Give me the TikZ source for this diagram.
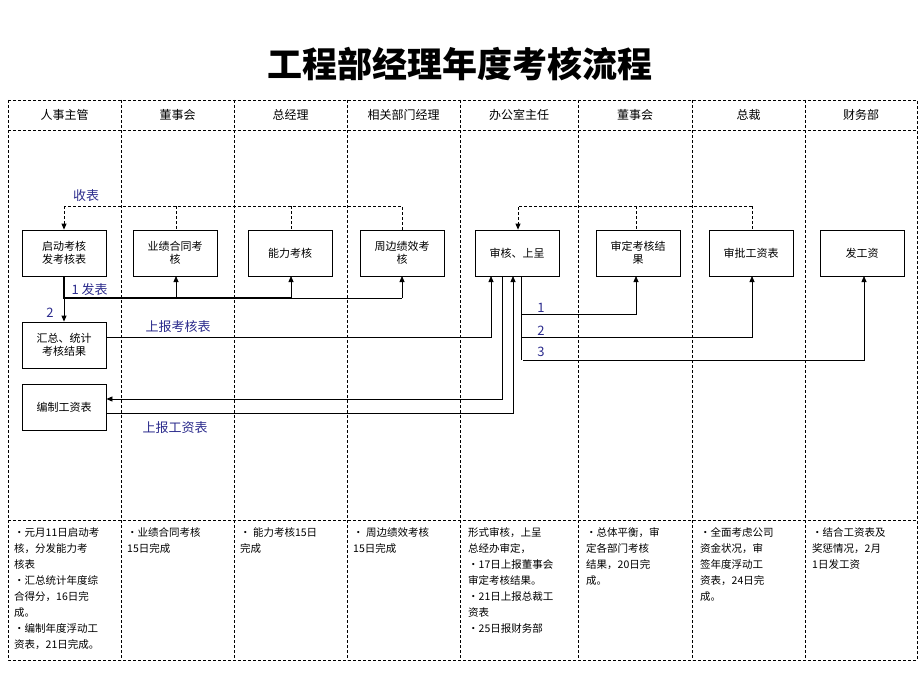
\documentclass[tikz,border=0pt]{standalone}
\usepackage{fontspec}
\setmainfont{Noto Sans CJK SC}
\usetikzlibrary{arrows.meta}
\definecolor{lbl}{HTML}{2B2B8C}
\begin{document}
\begin{tikzpicture}[x=1pt,y=-1pt,
  box/.style={draw,line width=0.8pt,minimum width=84pt,minimum height=46pt,align=center,font=\fontsize{11}{13}\selectfont,inner sep=1pt},
  grid/.style={densely dashed,line width=0.7pt},
  ln/.style={line width=0.8pt},
  arr/.style={ln,-{Triangle[length=6pt,width=5pt]}},
  lab/.style={text=lbl,font=\fontsize{13}{15}\selectfont},
  hd/.style={font=\fontsize{12}{14}\selectfont},
  note/.style={anchor=north west,align=left,font=\fontsize{10.5}{16}\selectfont,inner sep=0pt}]
\useasboundingbox (0,0) rectangle (920,690);
\node[font=\fontsize{35}{37}\selectfont\bfseries] (title) at (460,64) {工程部经理年度考核流程};
% table grid
\draw[grid] (8,100) rectangle (917,660);
\draw[grid] (8,130) -- (917,130);
\draw[grid] (8,520) -- (917,520);
\foreach \x in {121,234,347,460,578,692,805} \draw[grid] (\x,100) -- (\x,660);
% headers
\node[hd] (h1) at (64.5,115) {人事主管};
\node[hd] (h2) at (177.5,115) {董事会};
\node[hd] (h3) at (290.5,115) {总经理};
\node[hd] (h4) at (403.5,115) {相关部门经理};
\node[hd] (h5) at (519,115) {办公室主任};
\node[hd] (h6) at (635,115) {董事会};
\node[hd] (h7) at (748.5,115) {总裁};
\node[hd] (h8) at (861,115) {财务部};
% boxes
\node[box] (b1) at (64,253) {启动考核\\发考核表};
\node[box] (b2) at (175,253) {业绩合同考\\核};
\node[box] (b3) at (290,253) {能力考核};
\node[box] (b4) at (402,253) {周边绩效考\\核};
\node[box] (b5) at (517,253) {审核、上呈};
\node[box] (b6) at (638,253) {审定考核结\\果};
\node[box] (b7) at (751,253) {审批工资表};
\node[box] (b8) at (862,253) {发工资};
\node[box] (c1) at (64,345) {汇总、统计\\考核结果};
\node[box] (c2) at (64,407) {编制工资表};
% coordinates
\coordinate (d0) at (64,206);
\coordinate (d4) at (402,206);
\coordinate (f0) at (64,298);
\coordinate (f4) at (402,298);
\coordinate (e0) at (518,206);
\coordinate (e2) at (752,206);
% dashed returns
\draw[ln,densely dashed] (b4.north -| d4) -- (d4) -- (d0);
\draw[ln,densely dashed,-{Triangle[length=6pt,width=5pt]}] (d0) -- (d0 |- b1.north);
\draw[ln,densely dashed] (176,206) -- (176,230);
\draw[ln,densely dashed] (291,206) -- (291,230);
\draw[ln,densely dashed] (e2) -- (752,230);
\draw[ln,densely dashed] (636,206) -- (636,230);
\draw[ln,densely dashed,-{Triangle[length=6pt,width=5pt]}] (e2) -- (e0) -- (e0 |- b5.north);
\node[lab] (l0) at (86,196) {收表};
% distribute
\draw[ln,line width=1.3pt] (b1.south -| f0) -- (f0) -- (291,298);
\draw[ln] (291,298) -- (f4);
\draw[arr] (f0) -- (c1.north);
\draw[arr] (176,298) -- (176 ,276);
\draw[arr] (291,298) -- (291,276);
\draw[arr] (f4) -- (402,276);
\node[lab,anchor=west] (l1) at (68,290) {1 发表};
\node[lab] (l2) at (50,313) {2};
% report
\coordinate (r1) at (491,337);
\draw[arr] (c1.east |- r1) -- (r1) -- (491,276);
\node[lab] (l3) at (178,327) {上报考核表};
\coordinate (r2) at (502,399);
\draw[arr] (502,276) -- (r2) -- (c2.east |- r2);
\coordinate (r3) at (513,413);
\draw[arr] (c2.east |- r3) -- (r3) -- (513,276);
\node[lab] (l4) at (175,428) {上报工资表};
% from 审核
\draw[ln] (521,276) -- (521,360);
\draw[arr] (521,314) -- (636,314) -- (636,276);
\draw[arr] (521,337) -- (752,337) -- (752,276);
\draw[arr] (523,360) -- (864,360) -- (864,276);
\node[lab] (n1) at (541,308) {1};
\node[lab] (n2) at (541,331) {2};
\node[lab] (n3) at (541,352) {3};
% notes
\node[note] (t1) at (14,527) {•元月11日启动考\\核，分发能力考\\核表\\•汇总统计年度综\\合得分，16日完\\成。\\•编制年度浮动工\\资表，21日完成。};
\node[note] (t2) at (127,527) {•业绩合同考核\\15日完成};
\node[note] (t3) at (240,527) {• 能力考核15日\\完成};
\node[note] (t4) at (353,527) {• 周边绩效考核\\15日完成};
\node[note] (t5) at (468,527) {形式审核，上呈\\总经办审定，\\•17日上报董事会\\审定考核结果。\\•21日上报总裁工\\资表\\•25日报财务部};
\node[note] (t6) at (586,527) {•总体平衡，审\\定各部门考核\\结果，20日完\\成。};
\node[note] (t7) at (700,527) {•全面考虑公司\\资金状况，审\\签年度浮动工\\资表，24日完\\成。};
\node[note] (t8) at (812,527) {•结合工资表及\\奖惩情况，2月\\1日发工资};
\end{tikzpicture}
\end{document}
